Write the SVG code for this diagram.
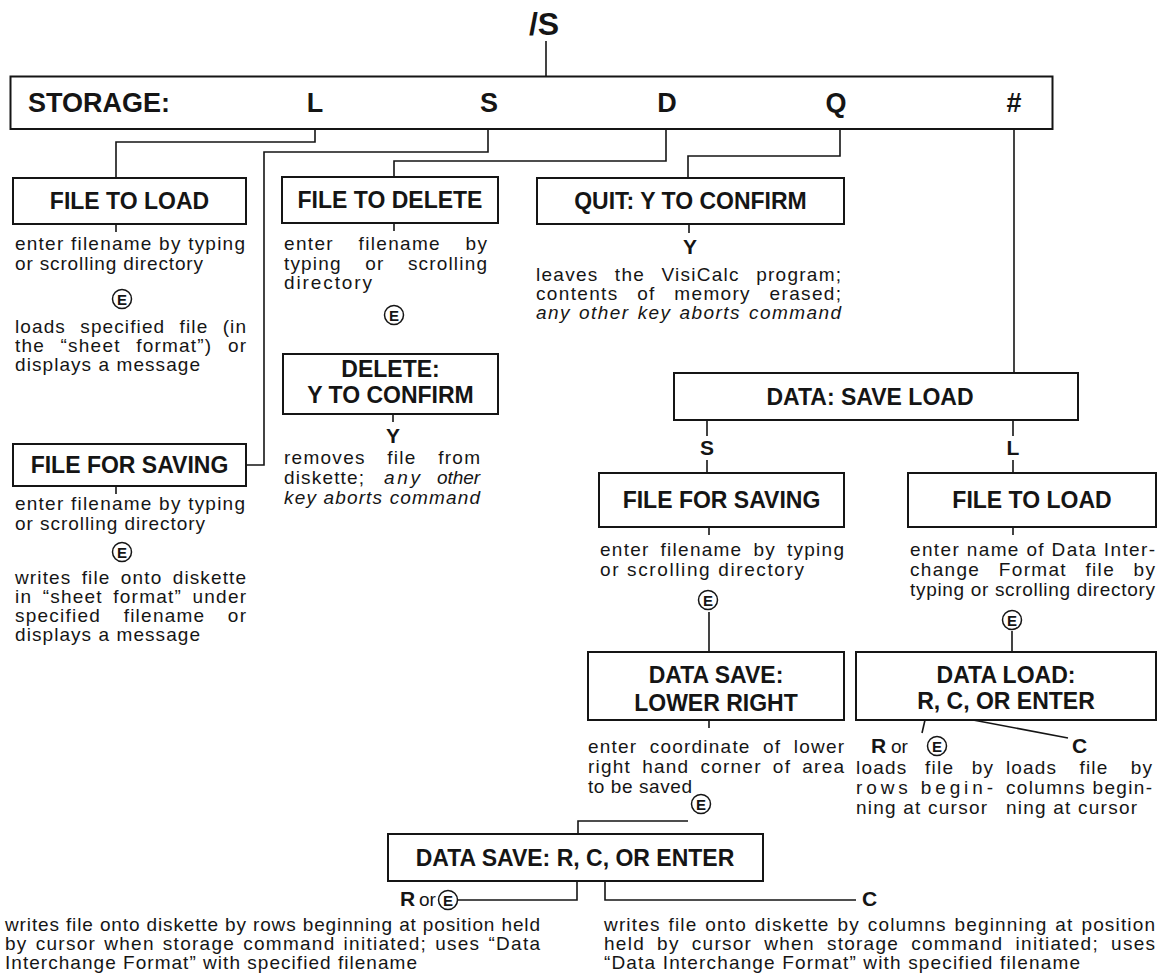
<svg xmlns="http://www.w3.org/2000/svg" width="1162" height="977" viewBox="0 0 1162 977">
<style>
.bg{fill:#fff}
.box{fill:#fff;stroke:#151515;stroke-width:2}
.ln{fill:none;stroke:#151515;stroke-width:1.6}
.ec{fill:#fff;stroke:#151515;stroke-width:1.5}
text{font-family:"Liberation Sans",Arial,Helvetica,sans-serif;fill:#151515}
.top{font-size:32px;font-weight:bold;text-anchor:middle}
.k{font-size:27px;font-weight:bold}
.km{font-size:27px;font-weight:bold;text-anchor:middle}
.h{font-size:23px;font-weight:bold;text-anchor:middle}
.t{font-size:19px}
.i{font-style:italic}
.y{font-size:21px;font-weight:bold;text-anchor:middle}
.yl{font-size:21px;font-weight:bold}
.e{font-size:15px;font-weight:bold;text-anchor:middle}
</style>
<rect class="bg" width="1162" height="977"/>

<g id="connectors">
<path class="ln" d="M546 41V76"/>
<path class="ln" d="M315 129V142H116V178"/>
<path class="ln" d="M488 129V152H264V465H246"/>
<path class="ln" d="M666 129V161H394V177"/>
<path class="ln" d="M840 129V156H688V178"/>
<path class="ln" d="M1014 129V373"/>
<path class="ln" d="M116 224V232"/>
<path class="ln" d="M394 223V231"/>
<path class="ln" d="M689 224V233"/>
<path class="ln" d="M393 414V422"/>
<path class="ln" d="M116 486V494"/>
<path class="ln" d="M707 420V436M707 460V473"/>
<path class="ln" d="M1013 420V436M1013 460V473"/>
<path class="ln" d="M709 527V535"/>
<path class="ln" d="M1013 527V535"/>
<path class="ln" d="M709 612V652"/>
<path class="ln" d="M1012 631V652"/>
<path class="ln" d="M709 720V728"/>
<path class="ln" d="M925 720L922 733"/>
<path class="ln" d="M973 720L1068 738"/>
<path class="ln" d="M688 821H578V834"/>
<path class="ln" d="M577 881V900H458"/>
<path class="ln" d="M605 881V900H856"/>
</g>

<g id="title">
<text class="top" x="544" y="35">/S</text>
</g>

<g id="storage">
<rect class="box" x="10.5" y="76.5" width="1042" height="52.5"/>
<text class="k" x="28" y="112">STORAGE:</text>
<text class="km" x="315" y="112">L</text>
<text class="km" x="489" y="112">S</text>
<text class="km" x="667" y="112">D</text>
<text class="km" x="836" y="112">Q</text>
<text class="km" x="1014" y="112">#</text>
</g>

<g id="file-to-load">
<rect class="box" x="13" y="178" width="233" height="46"/>
<text class="h" x="129.5" y="209">FILE TO LOAD</text>
<text class="t" x="15" y="250" textLength="230">enter filename by typing</text>
<text class="t" x="15" y="270" textLength="188">or scrolling directory</text>
<circle class="ec" cx="122" cy="299" r="9.5"/>
<text class="e" x="122" y="304.5">E</text>
<text class="t" x="15" y="333" word-spacing="8" textLength="231">loads specified file (in</text>
<text class="t" x="15" y="352" word-spacing="9" textLength="231">the “sheet format”) or</text>
<text class="t" x="15" y="371" textLength="185">displays a message</text>
</g>

<g id="file-for-saving">
<rect class="box" x="13" y="444" width="233" height="42"/>
<text class="h" x="129.5" y="473">FILE FOR SAVING</text>
<text class="t" x="15" y="510" textLength="230">enter filename by typing</text>
<text class="t" x="15" y="530" textLength="190">or scrolling directory</text>
<circle class="ec" cx="122" cy="552" r="9.5"/>
<text class="e" x="122" y="557.5">E</text>
<text class="t" x="15" y="584" word-spacing="4" textLength="231">writes file onto diskette</text>
<text class="t" x="15" y="603" word-spacing="4" textLength="231">in “sheet format” under</text>
<text class="t" x="15" y="622" word-spacing="16" textLength="231">specified filename or</text>
<text class="t" x="15" y="641" textLength="185">displays a message</text>
</g>

<g id="file-to-delete">
<rect class="box" x="282" y="177" width="216" height="46"/>
<text class="h" x="390" y="208">FILE TO DELETE</text>
<text class="t" x="284" y="250" word-spacing="18" textLength="203">enter filename by</text>
<text class="t" x="284" y="270" word-spacing="17" textLength="203">typing or scrolling</text>
<text class="t" x="284" y="289" textLength="88">directory</text>
<circle class="ec" cx="394" cy="315" r="9.5"/>
<text class="e" x="394" y="320.5">E</text>
</g>

<g id="delete-confirm">
<rect class="box" x="283" y="354" width="215" height="60"/>
<text class="h" x="390.5" y="377">DELETE:</text>
<text class="h" x="390.5" y="403">Y TO CONFIRM</text>
<text class="y" x="393" y="443">Y</text>
<text class="t" x="284" y="464" word-spacing="15" textLength="196">removes file from</text>
<text class="t" x="284" y="484" textLength="80">diskette;</text>
<text class="t i" x="384" y="484" textLength="36">any</text>
<text class="t i" x="437" y="484" textLength="43">other</text>
<text class="t i" x="284" y="504" textLength="196">key aborts command</text>
</g>

<g id="quit">
<rect class="box" x="537" y="178" width="307" height="46"/>
<text class="h" x="690.5" y="209">QUIT: Y TO CONFIRM</text>
<text class="y" x="690" y="254">Y</text>
<text class="t" x="536" y="281" word-spacing="9.8" textLength="305">leaves the VisiCalc program;</text>
<text class="t" x="536" y="300" word-spacing="12" textLength="305">contents of memory erased;</text>
<text class="t i" x="536" y="319" word-spacing="1.5" textLength="305">any other key aborts command</text>
</g>

<g id="data-save-load">
<rect class="box" x="674" y="373" width="404" height="47"/>
<text class="h" x="870" y="405">DATA: SAVE LOAD</text>
<text class="y" x="707" y="455">S</text>
<text class="y" x="1013" y="455">L</text>
</g>

<g id="data-file-for-saving">
<rect class="box" x="599" y="473" width="245" height="54"/>
<text class="h" x="721.5" y="508">FILE FOR SAVING</text>
<text class="t" x="600" y="556" word-spacing="4.5" textLength="244">enter filename by typing</text>
<text class="t" x="600" y="576" textLength="204">or scrolling directory</text>
<circle class="ec" cx="708" cy="600" r="9.5"/>
<text class="e" x="708" y="605.5">E</text>
</g>

<g id="data-file-to-load">
<rect class="box" x="908" y="473" width="248" height="54"/>
<text class="h" x="1032" y="508">FILE TO LOAD</text>
<text class="t" x="910" y="556" textLength="245">enter name of Data Inter-</text>
<text class="t" x="910" y="576" word-spacing="12" textLength="245">change Format file by</text>
<text class="t" x="910" y="596" textLength="245">typing or scrolling directory</text>
<circle class="ec" cx="1012" cy="620" r="9.5"/>
<text class="e" x="1012" y="625.5">E</text>
</g>

<g id="data-save-lower-right">
<rect class="box" x="588" y="652" width="256" height="68"/>
<text class="h" x="716" y="683">DATA SAVE:</text>
<text class="h" x="716" y="711">LOWER RIGHT</text>
<text class="t" x="588" y="753" word-spacing="5.9" textLength="256">enter coordinate of lower</text>
<text class="t" x="588" y="773" word-spacing="4.7" textLength="256">right hand corner of area</text>
<text class="t" x="588" y="793" textLength="104">to be saved</text>
<circle class="ec" cx="701" cy="804" r="9.5"/>
<text class="e" x="701" y="809.5">E</text>
</g>

<g id="data-load">
<rect class="box" x="856" y="652" width="300" height="68"/>
<text class="h" x="1006" y="683">DATA LOAD:</text>
<text class="h" x="1006" y="709">R, C, OR ENTER</text>
<text class="yl" x="871" y="753">R</text>
<text class="t" x="891" y="753">or</text>
<circle class="ec" cx="937" cy="746" r="9.5"/>
<text class="e" x="937" y="751.5">E</text>
<text class="yl" x="1072" y="753">C</text>
<text class="t" x="856" y="774" word-spacing="11" textLength="137">loads file by</text>
<text class="t" x="856" y="794" textLength="137">rows begin-</text>
<text class="t" x="856" y="814" textLength="131">ning at cursor</text>
<text class="t" x="1006" y="774" word-spacing="16" textLength="146">loads file by</text>
<text class="t" x="1006" y="794" textLength="146">columns begin-</text>
<text class="t" x="1006" y="814" textLength="131">ning at cursor</text>
</g>

<g id="data-save-rc">
<rect class="box" x="388" y="834" width="375" height="47"/>
<text class="h" x="575" y="866">DATA SAVE: R, C, OR ENTER</text>
<text class="yl" x="400" y="906">R</text>
<text class="t" x="419" y="906">or</text>
<circle class="ec" cx="448" cy="900" r="9.5"/>
<text class="e" x="448" y="905.5">E</text>
<text class="yl" x="862" y="906">C</text>
<text class="t" x="5" y="931" textLength="535">writes file onto diskette by rows beginning at position held</text>
<text class="t" x="5" y="950" word-spacing="1.6" textLength="535">by cursor when storage command initiated; uses “Data</text>
<text class="t" x="5" y="969" textLength="412">Interchange Format” with specified filename</text>
<text class="t" x="604" y="931" word-spacing="1.5" textLength="551">writes file onto diskette by columns beginning at position</text>
<text class="t" x="604" y="950" word-spacing="5.6" textLength="551">held by cursor when storage command initiated; uses</text>
<text class="t" x="604" y="969" textLength="476">“Data Interchange Format” with specified filename</text>
</g>
</svg>
